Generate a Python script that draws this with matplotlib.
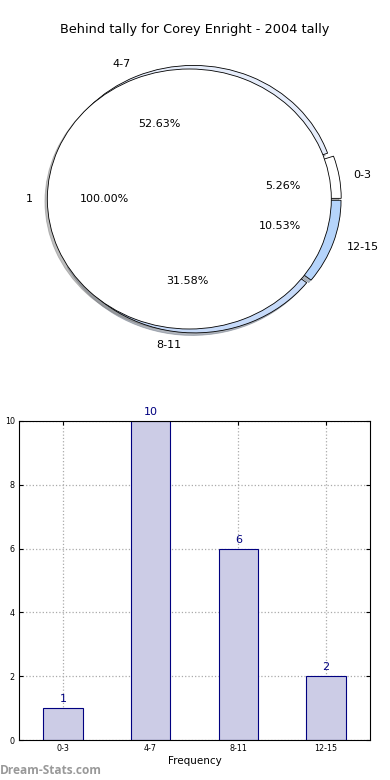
import matplotlib
matplotlib.use("Agg")
import matplotlib.pyplot as plt

title = "Behind tally for Corey Enright - 2004 tally"
categories = ["0-3", "4-7", "8-11", "12-15"]
counts = [1, 10, 6, 2]
inner_labels = ["1"]
inner_values = [1]
wedge_colors = ["#ffffff", "#e6edfb", "#c6daf9", "#b5d4fb"]
ylabel = "Number of matches"
xlabel = "Frequency"

fig = plt.figure(figsize=(3.9, 7.8), dpi=100)

# ---- pie ----
W, H = 390.0, 780.0
ux, uy = 142.0, 130.0
lim = 1.3
cx, cy = 195.0, 199.0
axw, axh = 2 * lim * ux, 2 * lim * uy
axp = fig.add_axes([(cx - lim * ux) / W, (H - cy - lim * uy) / H, axw / W, axh / H])
wp = dict(edgecolor="black", linewidth=0.6)
shd = dict(ox=-0.012, oy=-0.014, shade=0.5)
axp.pie(counts, labels=categories, colors=wedge_colors, explode=[0.03] * 4,
        autopct="%1.2f%%", pctdistance=0.6, labeldistance=1.1, shadow=shd,
        startangle=0, wedgeprops=wp, textprops=dict(fontsize=8))
axp.pie(inner_values, labels=inner_labels, colors=["white"], explode=[0.04],
        autopct="%1.2f%%", pctdistance=0.6, labeldistance=1.1, shadow=shd,
        startangle=0, wedgeprops=wp, textprops=dict(fontsize=8))
axp.set_aspect("auto")
axp.set_xlim(-lim, lim)
axp.set_ylim(-lim, lim)
axp.axis("off")
fig.text(195 / W, 1 - 30 / H, title, ha="center", va="center", fontsize=9.3)

# ---- bars ----
axb = fig.add_axes([19 / W, 1 - 740 / H, (370 - 19) / W, (740 - 421) / H])
x = list(range(len(categories)))
bars = axb.bar(x, counts, width=0.45, color="#ccccE6", edgecolor="#000080", linewidth=0.8, zorder=2)
for xi, c in zip(x, counts):
    axb.text(xi, c + 0.12, str(c), ha="center", va="bottom", color="#000080", fontsize=8)
axb.set_xlim(-0.5, 3.5)
axb.set_ylim(0, 10)
axb.set_xticks(x)
axb.set_xticklabels(categories)
axb.set_yticks([0, 2, 4, 6, 8, 10])
axb.tick_params(labelsize=5.8, direction="in", length=3, top=True, right=True, pad=3)
axb.grid(True, linestyle=":", color="#aaaaaa", linewidth=0.9, zorder=0)
axb.set_axisbelow(True)
axb.set_xlabel(xlabel, fontsize=7.5, labelpad=2)
axb.set_ylabel(ylabel, fontsize=7)
axb.yaxis.set_label_coords(-0.05, 0.5)

fig.text(0 / W, 1 - 771 / H, "Dream-Stats.com", ha="left", va="center",
         fontsize=8.6, color="#999999", fontweight="bold", family="Open Sans")

fig.savefig("out.png", dpi=100)
